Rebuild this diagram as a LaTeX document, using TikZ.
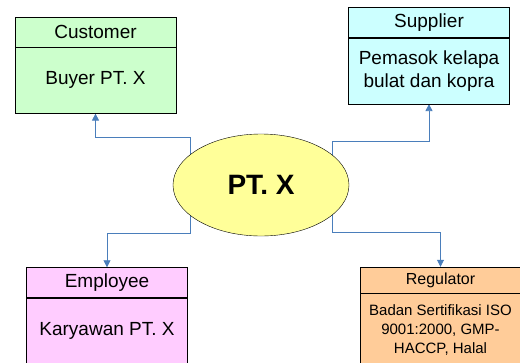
\documentclass[tikz,border=0pt]{standalone}
\usepackage{fontspec}
\setmainfont{Liberation Sans}
\usepackage{tikz}
\usetikzlibrary{shapes.geometric,arrows.meta}
\usetikzlibrary{positioning,calc,backgrounds}
\definecolor{hijau}{HTML}{CCFFCC}
\definecolor{biru}{HTML}{CCFFFF}
\definecolor{ungu}{HTML}{FFCCFF}
\definecolor{oranye}{HTML}{FFCC99}
\definecolor{kuning}{HTML}{FFFF99}
\definecolor{garis}{HTML}{4A7EBB}
% kotak entitas: nama, posisi kepala, warna, judul, isi, opsi kepala, opsi isi
\newcommand{\entitas}[7]{%
\node[kepala,fill=#3,#6] (#1-h) at (#2) {#4};
\node[badan,fill=#3,below=0pt of #1-h,#7] (#1-b) {#5};
}
\tikzset{%
  kepala/.style={%
    draw, inner sep=0pt,
    minimum width=161pt, minimum height=30pt,
    font=\fontsize{19}{23}\selectfont
  },
  badan/.style={%
    draw, inner sep=0pt, align=center,
    minimum width=161pt, minimum height=66pt,
    font=\fontsize{19}{23}\selectfont
  },
  pusat/.style={%
    ellipse, draw, fill=kuning, inner sep=0pt,
    minimum width=176pt, minimum height=102pt,
    font=\bfseries\fontsize{28}{32}\selectfont
  },
  panah/.style={%
    draw=garis, line width=0.8pt,
    -{Triangle[width=7pt,length=7pt]}
  }
}

\begin{document}
\begin{tikzpicture}[x=1pt,y=-1pt]
\useasboundingbox (0,0) rectangle (520,362);
\clip (0,0) rectangle (520,362);

\node[pusat] (ptx) at (261,185) {PT. X};

\entitas{cust}{95.5,32}{hijau}{Customer}{Buyer PT. X}{}{}
\entitas{supp}{429,22.5}{biru}{Supplier}{Pemasok kelapa\\bulat dan kopra}{}{}
\entitas{empl}{107,282.5}{ungu}{Employee}{Karyawan PT. X}{}{}
\entitas{regu}{440.5,280}{oranye}{Regulator}%
  {Badan Sertifikasi ISO\\9001:2000, GMP-\\HACCP, Halal}%
  {minimum height=26pt,font=\fontsize{16}{19}\selectfont}%
  {minimum height=74pt,font=\fontsize{15}{19}\selectfont}

% garis penghubung di belakang elips
\begin{pgfonlayer}{background}
\draw[panah] ($(ptx.center)+(-71,0)$) |- ($(cust-b.south)+(0,24)$) -- (cust-b.south);
\draw[panah] ($(ptx.center)+(71,0)$) |- ($(supp-b.south)+(0,37)$) -- (supp-b.south);
\draw[panah] ($(ptx.center)+(-71,0)$) |- ($(empl-h.north)+(0,-34)$) -- (empl-h.north);
\draw[panah] ($(ptx.center)+(71,0)$) |- ($(regu-h.north)+(0,-34)$) -- (regu-h.north);
\end{pgfonlayer}
\end{tikzpicture}
\end{document}
